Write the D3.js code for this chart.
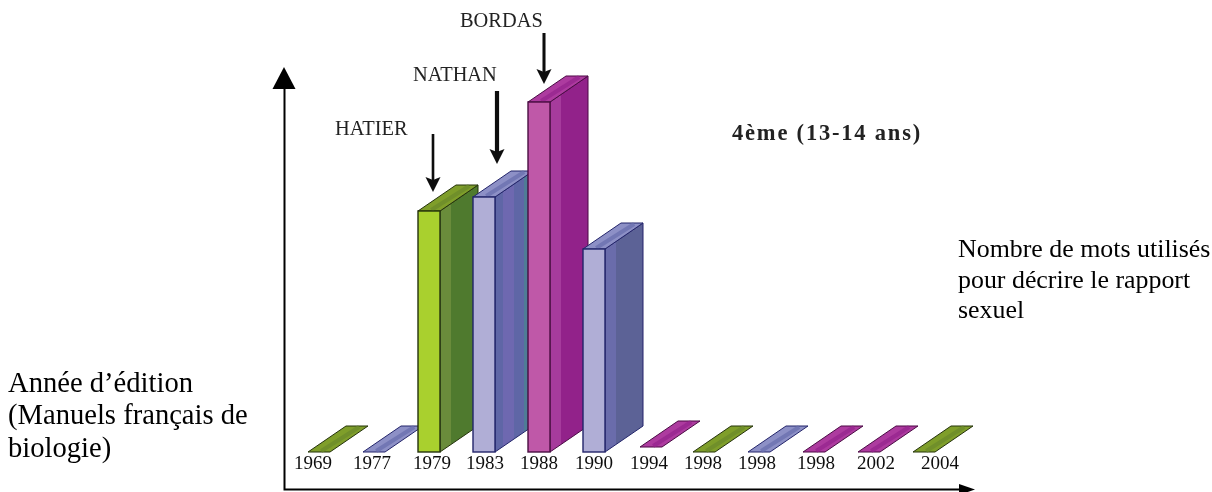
<!DOCTYPE html>
<html lang="fr">
<head>
<meta charset="utf-8">
<title>Nombre de mots utilisés</title>
<script src="https://cdnjs.cloudflare.com/ajax/libs/d3/7.8.5/d3.min.js"></script>
<style>
  html, body { margin: 0; padding: 0; background: #fff; }
  svg { display: block; }
  text { font-family: "Liberation Serif", "Times New Roman", serif; fill: #000; }
</style>
</head>
<body>
<svg id="chart" width="1212" height="492"></svg>
<script>
// Word counts per textbook edition (one unit = one word)
const years = ["1969","1977","1979","1983","1988","1990","1994","1998","1998","1998","2002","2004"];
const wordCounts = [0, 0, 24.1, 25.5, 35, 20.3, 0, 0, 0, 0, 0, 0];
const seriesTone = ["green","blue","green","blueStriped","magenta","blue","magenta","green","blue","magenta","magenta","green"];
const publishers = ["HATIER","NATHAN","BORDAS"];
const publisherYearIndex = [2, 3, 4];
const title = "4ème (13-14 ans)";
const valueAxisNote = ["Nombre de mots utilisés","pour décrire le rapport","sexuel"];
const yearAxisNote = ["Année d’édition","(Manuels français de","biologie)"];

const svg = d3.select("#chart");

// Palette of the extruded bars
const tones = {
  green:       { front: "#a9d02f", top: "#7f9e2c", topBand: "#6b8a2a", side: ["#6a8c3a","#4f7a2f"], edge: "#25330c" },
  blue:        { front: "#b0aed6", top: "#8d90c6", topBand: "#6a6fae", side: ["#6a6cab","#5c6296"], edge: "#23256a" },
  blueStriped: { front: "#b0aed6", top: "#8d90c6", topBand: "#6a6fae", side: ["#5f66a6","#4f7c96"], edge: "#23256a" },
  magenta:     { front: "#bf58a8", top: "#ad3a9f", topBand: "#96248e", side: ["#a63a9c","#92208a"], edge: "#4a0c44" }
};

const defs = svg.append("defs");
Object.entries(tones).forEach(([key, t]) => {
  const g = defs.append("linearGradient").attr("id", "side-" + key);
  const stops = key === "blueStriped"
    ? [[0,t.side[0]],[0.22,t.side[0]],[0.22,"#6e68b0"],[0.5,"#6e68b0"],[0.5,t.side[0]],[0.75,t.side[0]],[0.75,t.side[1]],[1,t.side[1]]]
    : [[0,t.side[0]],[0.28,t.side[0]],[0.28,t.side[1]],[1,t.side[1]]];
  stops.forEach(([o, c]) => g.append("stop").attr("offset", o).attr("stop-color", c));
});
defs.append("filter").attr("id", "soft")
  .attr("x", "-5%").attr("y", "-5%").attr("width", "110%").attr("height", "110%")
  .append("feGaussianBlur").attr("stdDeviation", 0.6);

// Scales: twelve evenly spaced slots, heights proportional to the count
const slots = d3.range(years.length);
const x = d3.scaleBand().domain(slots).range([308, 308 + 627]).paddingInner(0.6).paddingOuter(0);
const barW = x.bandwidth(), depthX = 38, depthY = 26;
const baseY = 452;
const y = d3.scaleLinear().domain([0, 35]).range([baseY, 102]);
// The 1994 slab sits slightly higher than the others
const slabLift = i => years[i] === "1994" ? 5 : 0;
const slabShift = i => years[i] === "1994" ? 2 : 0;

const chart = svg.append("g").attr("filter", "url(#soft)");

// Extruded bars, left to right so each one overlaps the previous
const bars = chart.selectAll("g.bar").data(slots).join("g").attr("class", "bar");
const pts = a => a.map(p => p.join(",")).join(" ");

bars.each(function(i) {
  const g = d3.select(this);
  const t = tones[seriesTone[i]];
  const x0 = x(i) + slabShift(i);
  const y0 = baseY - slabLift(i);
  const top = y(wordCounts[i]) - slabLift(i);
  const x1 = x0 + barW;

  if (wordCounts[i] > 0) {
    g.append("polygon")
      .attr("points", pts([[x1,y0],[x1+depthX,y0-depthY],[x1+depthX,top-depthY],[x1,top]]))
      .attr("fill", `url(#side-${seriesTone[i]})`)
      .attr("stroke", t.edge).attr("stroke-width", 1);
  }
  g.append("polygon")
    .attr("points", pts([[x0,top],[x1,top],[x1+depthX,top-depthY],[x0+depthX,top-depthY]]))
    .attr("fill", t.top).attr("stroke", t.edge).attr("stroke-width", 1);
  g.append("line")
    .attr("x1", x0 + barW * 0.6).attr("y1", top - 1)
    .attr("x2", x0 + barW * 0.6 + depthX).attr("y2", top - depthY + 1)
    .attr("stroke", t.topBand).attr("stroke-width", 4).attr("opacity", 0.75);
  if (wordCounts[i] > 0) {
    g.append("rect")
      .attr("x", x0).attr("y", top).attr("width", barW).attr("height", y0 - top)
      .attr("fill", t.front).attr("stroke", t.edge).attr("stroke-width", 1.4);
  }
});

// Edition years, set through a bottom axis with the line and ticks hidden.
// Labels drift rightwards relative to their slabs, hence the per-label nudge.
const yearNudge = [-6, -2, 3, 1, 0, 0, 0, -1, -2, 2, 7, 16];
const yearAxis = d3.axisBottom(x).tickSize(0).tickPadding(0).tickFormat(i => years[i]);
const axisG = chart.append("g").attr("transform", `translate(0,${baseY + 3})`).call(yearAxis);
axisG.select(".domain").remove();
axisG.selectAll(".tick text")
  .attr("x", i => yearNudge[i])
  .attr("dy", 0).attr("y", 14)
  .style("font-family", '"Liberation Serif", serif')
  .style("font-size", "19px").style("fill", "#111");

// Publisher callouts
const arrowHead = (g, px, tipY, w, h) => g.append("polygon")
  .attr("points", pts([[px - w/2, tipY - h],[px, tipY - h + 3],[px + w/2, tipY - h],[px, tipY]]))
  .attr("fill", "#0c0c0c");
const callouts = [
  { dx: 15, gap: 19, len: 58, sw: 2.6, tx: 335, ty: 135 },
  { dx: 24, gap: 33, len: 73, sw: 4.2, tx: 413, ty: 81 },
  { dx: 16, gap: 18, len: 51, sw: 3,   tx: 460, ty: 27 }
];
publishers.forEach((name, k) => {
  const c = callouts[k];
  const i = publisherYearIndex[k];
  const px = x(i) + c.dx;
  const tipY = y(wordCounts[i]) - c.gap;
  chart.append("line").attr("x1", px).attr("x2", px)
    .attr("y1", tipY - c.len).attr("y2", tipY - 6)
    .attr("stroke", "#0c0c0c").attr("stroke-width", c.sw);
  arrowHead(chart, px, tipY, 15, 15);
  chart.append("text").attr("x", c.tx).attr("y", c.ty)
    .attr("font-size", 20.4).style("fill", "#222").text(name);
});

chart.append("text").attr("x", 732).attr("y", 140)
  .attr("font-size", 22.5).attr("font-weight", "bold")
  .attr("letter-spacing", 1.8).style("fill", "#222").text(title);

// Hand-drawn axes with arrow heads
const axes = svg.append("g");
axes.append("path").attr("d", "M284.5,85V489.5H965")
  .attr("fill", "none").attr("stroke", "#000").attr("stroke-width", 2);
axes.append("polygon").attr("points", pts([[284,67],[272.5,89],[295.5,89]])).attr("fill", "#000");
axes.append("polygon").attr("points", pts([[975,489.5],[959,484],[959,495]])).attr("fill", "#000");

// Side notes
const note = (lines, px, ys, size) => svg.append("g").selectAll("text").data(lines).join("text")
  .attr("x", px).attr("y", (d, i) => ys[i]).attr("font-size", size).text(d => d);
note(valueAxisNote, 958, [257, 288, 318], 25.9);
note(yearAxisNote, 8, [392, 424, 457], 28.6);
</script>
</body>
</html>
